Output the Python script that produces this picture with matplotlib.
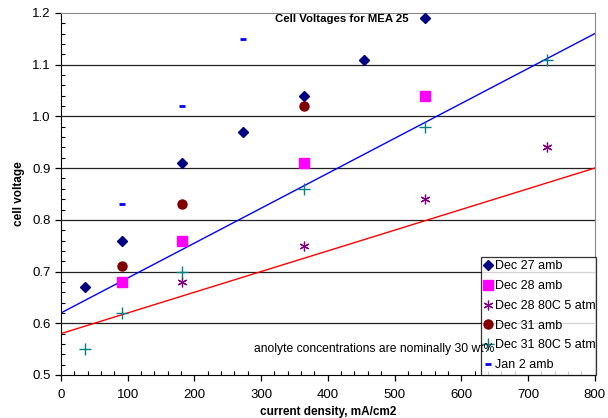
import matplotlib
matplotlib.use("Agg")
import matplotlib.pyplot as plt
from matplotlib.ticker import MultipleLocator

plt.rcParams["font.family"] = ["Liberation Sans", "DejaVu Sans"]

# data
dec27_x = [36, 91, 182, 273, 364, 455, 546]
dec27_y = [0.67, 0.76, 0.91, 0.97, 1.04, 1.11, 1.19]
dec28_x = [91, 182, 364, 546]
dec28_y = [0.68, 0.76, 0.91, 1.04]
dec28hot_x = [182, 364, 546, 728]
dec28hot_y = [0.68, 0.75, 0.84, 0.94]
dec31_x = [91, 182, 364]
dec31_y = [0.71, 0.83, 1.02]
dec31hot_x = [36, 91, 182, 364, 546, 728]
dec31hot_y = [0.55, 0.62, 0.70, 0.86, 0.98, 1.11]
jan2_x = [91, 182, 273]
jan2_y = [0.83, 1.02, 1.15]

# straight reference lines
blue_line_x = [0, 800]
blue_line_y = [0.62, 1.16]
red_line_x = [0, 800]
red_line_y = [0.58, 0.90]

fig = plt.figure(figsize=(6.08, 4.18), dpi=100)
ax = fig.add_axes([0.1003, 0.1029, 0.8777, 0.866])

for y in [0.6, 0.7, 0.8, 0.9, 1.0, 1.1]:
    ax.axhline(y, color="#222222", lw=0.9, zorder=1)

ax.plot(blue_line_x, blue_line_y, color="#0000ff", lw=1.0, zorder=2)
ax.plot(red_line_x, red_line_y, color="#ff0000", lw=1.0, zorder=2)

ax.plot(dec27_x, dec27_y, ls="none", marker="D", ms=5, color="#000080", label="Dec 27 amb", zorder=3)
ax.plot(dec28_x, dec28_y, ls="none", marker="s", ms=6.5, color="#ff00ff", label="Dec 28 amb", zorder=3)
ax.plot(dec28hot_x, dec28hot_y, ls="none", marker=(6, 2, 0), ms=7, mew=0.9, color="#800080",
        label="Dec 28 80C 5 atm", zorder=3)
ax.plot(dec31_x, dec31_y, ls="none", marker="o", ms=6.5, color="#800000", label="Dec 31 amb", zorder=3)
ax.plot(dec31hot_x, dec31hot_y, ls="none", marker="+", ms=8, mew=1.0, color="#008080",
        label="Dec 31 80C 5 atm", zorder=3)
ax.plot(jan2_x, jan2_y, ls="none", marker="_", ms=5, mew=2, color="#0000ff", label="Jan 2 amb", zorder=3)

ax.set_xlim(0, 800)
ax.set_ylim(0.5, 1.2)
ax.xaxis.set_major_locator(MultipleLocator(100))
ax.xaxis.set_minor_locator(MultipleLocator(20))
ax.yaxis.set_major_locator(MultipleLocator(0.1))
ax.yaxis.set_minor_locator(MultipleLocator(0.02))
ax.yaxis.set_major_formatter(plt.FuncFormatter(lambda v, p: f"{v:.1f}"))
ax.tick_params(which="major", direction="out", length=4, width=0.9, labelsize=9.5, colors="black")
ax.tick_params(which="minor", direction="in", length=3, width=0.8)
ax.tick_params(axis="x", pad=6)

for side in ["top", "right"]:
    ax.spines[side].set_color("#888888")
for side in ["left", "bottom"]:
    ax.spines[side].set_color("black")

ax.set_xlabel("current density, mA/cm2", fontsize=8.5, fontweight="bold", labelpad=4)
ax.set_ylabel("cell voltage", fontsize=8.5, fontweight="bold", labelpad=5)

ax.text(0.527, 0.997, "Cell Voltages for MEA 25", transform=ax.transAxes, ha="center", va="top",
        fontsize=8.2, fontweight="bold")

leg = ax.legend(loc="lower left", bbox_to_anchor=(0.787, 0.0, 0.215, 0.326), mode="expand",
                fontsize=9, frameon=True, fancybox=False, borderpad=0.3, labelspacing=0.62,
                handlelength=0.6, handletextpad=0.25, borderaxespad=0, numpoints=1)
leg.get_frame().set_edgecolor("black")
leg.get_frame().set_linewidth(0.9)
leg.set_zorder(5)

# note sits on top of the legend box, as in the original
ax.text(0.811, 0.072, "anolyte concentrations are nominally 30 wt%", transform=ax.transAxes,
        ha="right", va="center", fontsize=8.7, zorder=6)

fig.savefig("out.png", dpi=100)
